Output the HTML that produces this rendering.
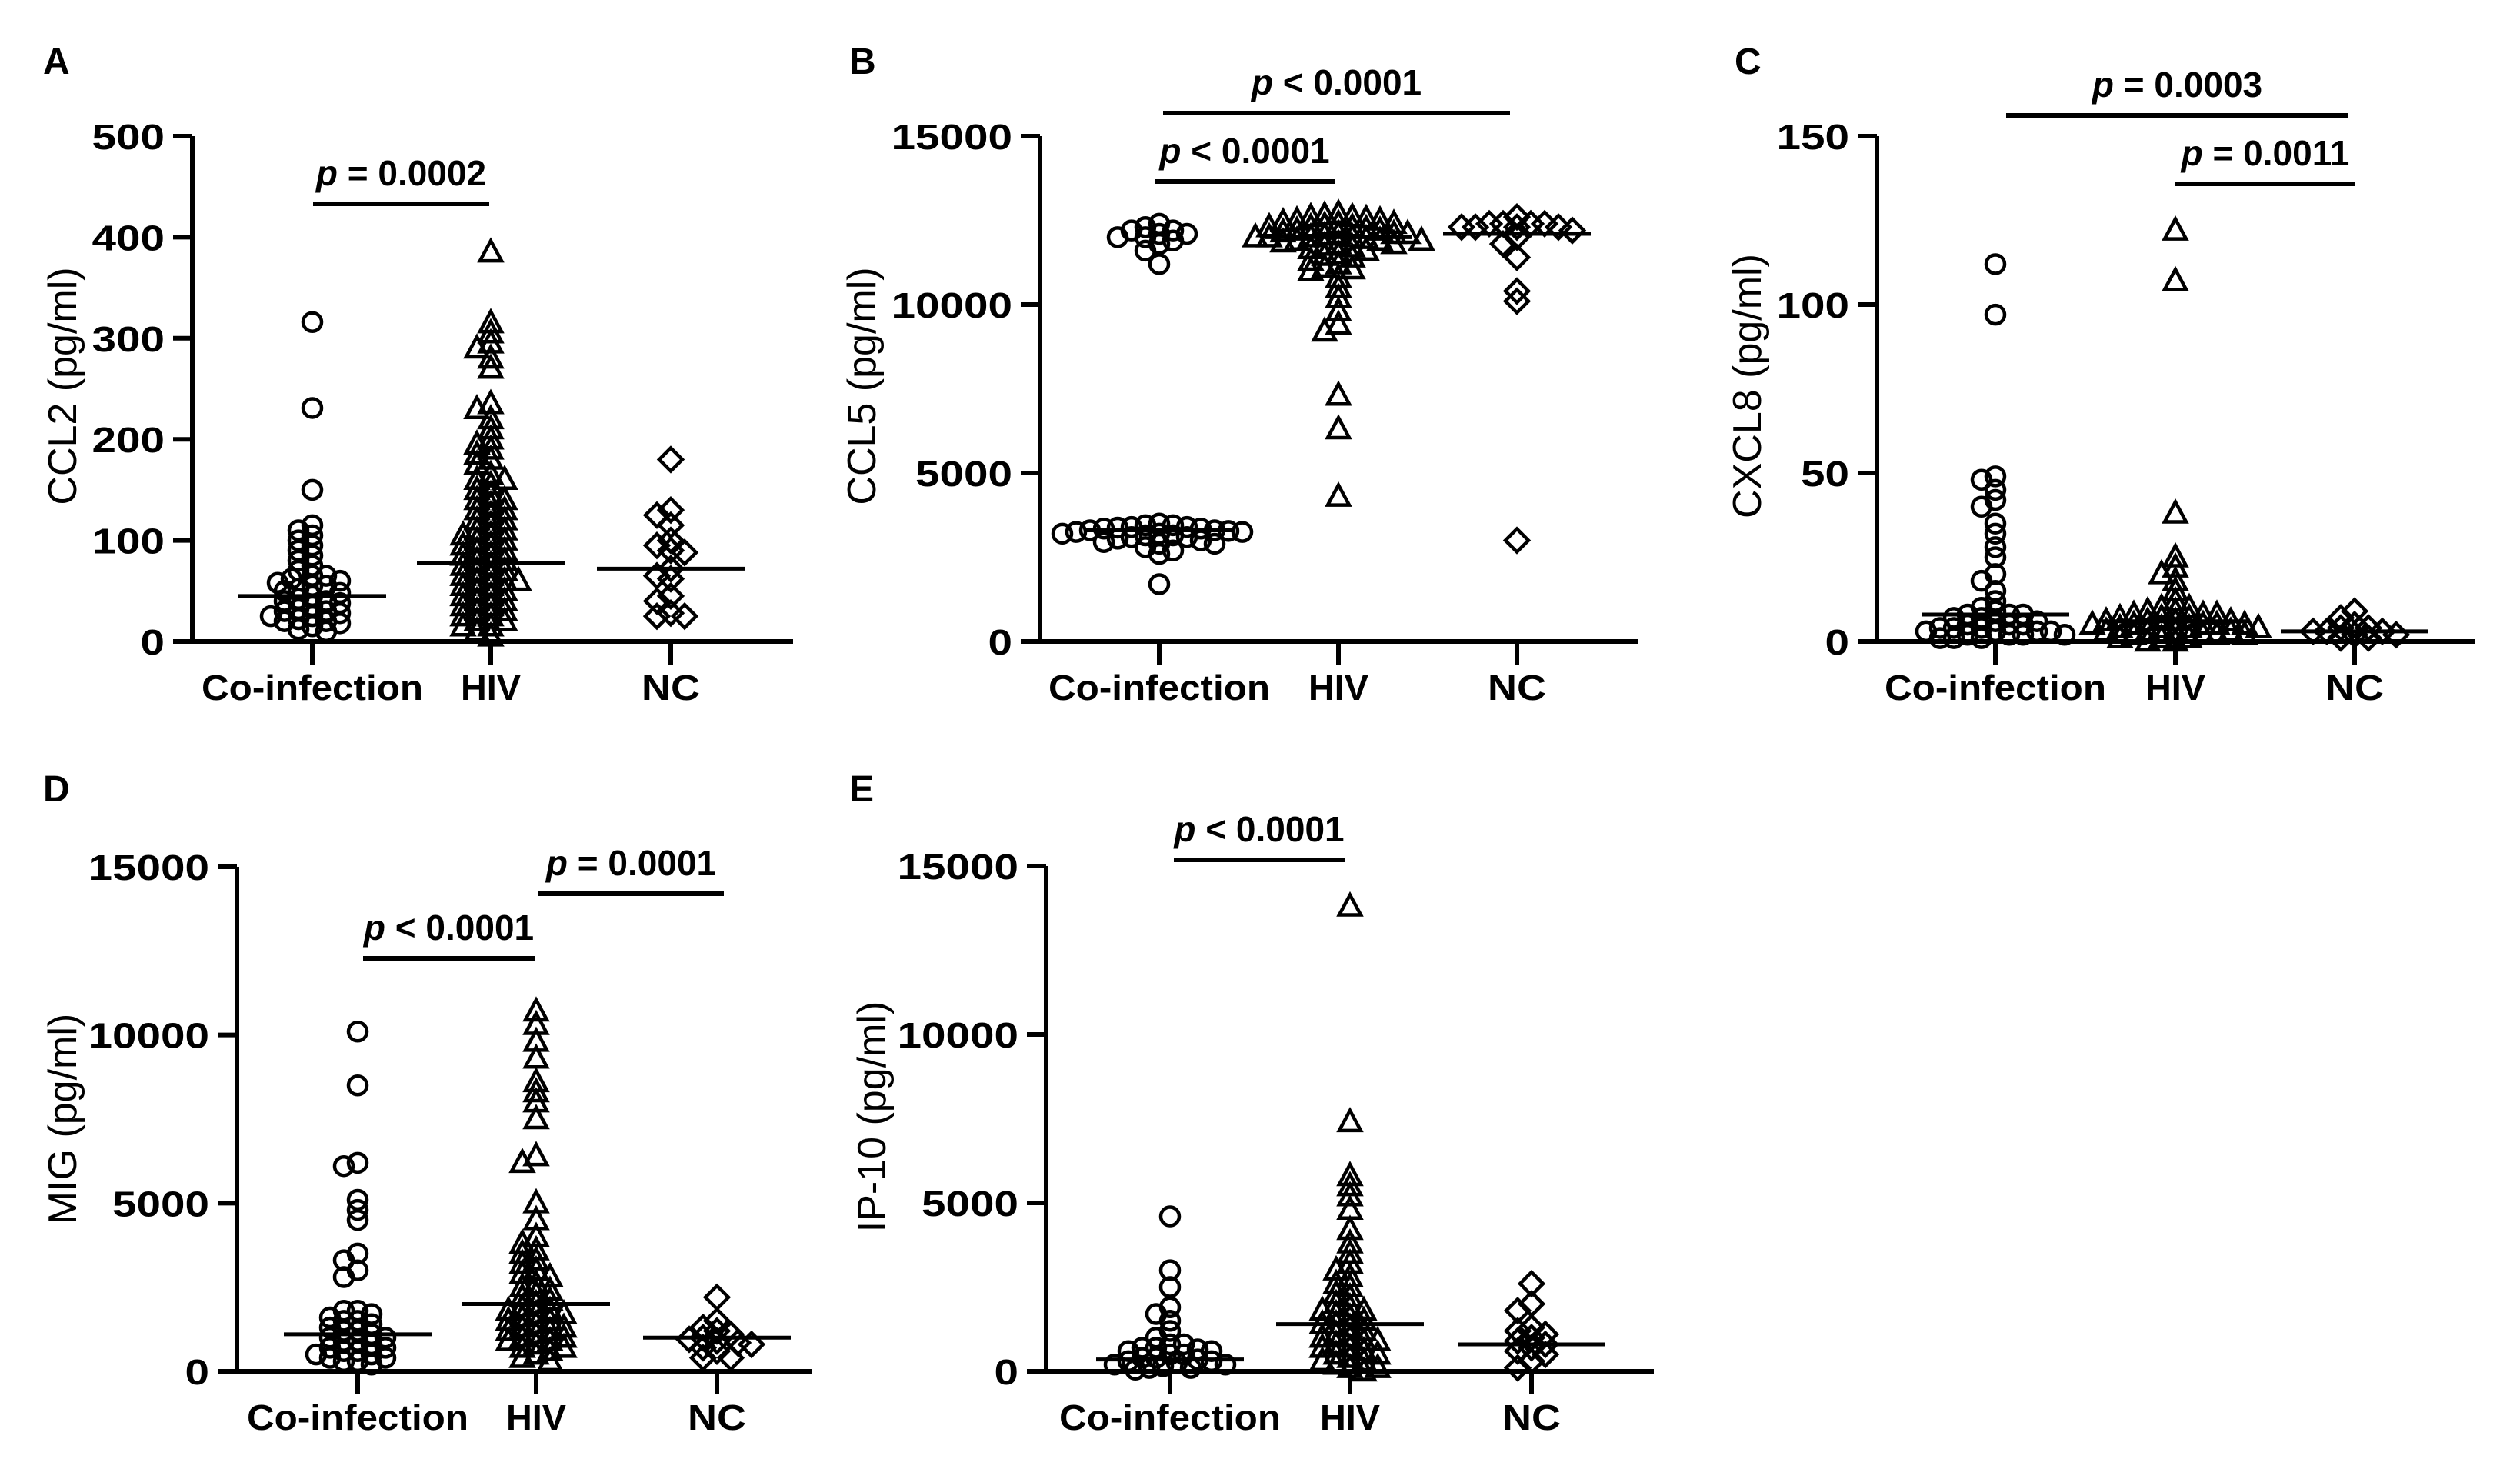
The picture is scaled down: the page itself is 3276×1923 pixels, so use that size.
<!DOCTYPE html>
<html><head><meta charset="utf-8"><style>
html,body{margin:0;padding:0;background:#fff;}
svg{display:block;font-family:"Liberation Sans",Arial,sans-serif;}
</style></head><body>
<svg id="fig" width="3276" height="1923" viewBox="0 0 3276 1923" xmlns="http://www.w3.org/2000/svg"></svg>
<script>
const categories = ["Co-infection","HIV","NC"];
// Panel A CCL2
const ccl2Coinf = [316,231,150,115,110,105,100,95,90,85,80,75,70,65,62,60,58,55,52,50,48,45,42,40,38,35,32,30,28,25,22,20,18,15,12,10,30,40,55,65,20,25];
const ccl2Hiv = [385,315,305,295,290,280,270,235,230,220,210,200,195,190,185,180,175,165,160,155,150,145,140,135,130,125,120,115,110,105,100,95,90,85,80,75,70,65,60,55,50,45,40,35,30,25,20,15,10,5,60,70,80,90,100,110,50,40,30,20,60,75,85,95,120,140,45,55,65,35,25,15,160,130,105];
const ccl2Nc = [180,130,125,115,100,95,90,88,72,65,62,45,40,28,25,25];
const ccl2Medians = [45,78,72];
// Panel B CCL5
const ccl5Coinf = [12400,12300,12200,12100,12000,12000,11900,11800,12200,12100,11600,11200,3500,3450,3400,3400,3350,3300,3300,3250,3200,3200,3150,3100,3100,3000,2950,2900,2900,2800,2700,2600,3350,3450,3250,3150,1700,3380,3280,3050];
const ccl5Hiv = [12700,12600,12600,12500,12500,12400,12400,12300,12300,12200,12200,12100,12100,12000,12000,12000,11900,11900,11800,11800,11700,11600,11500,11400,11300,11200,11100,11000,10800,10500,10200,9800,9400,9200,7300,6300,4300,12450,12350,12250,12150,12050,11950,11850,11750,11650,12550,12650,11450,11050,12000,12100,11900,12300];
const ccl5Nc = [12600,12400,12400,12400,12400,12300,12300,12300,12300,12200,12000,11800,11400,10400,10100,3000];
const ccl5Medians = [3300,12000,12100];
// Panel C CXCL8
const cxcl8Coinf = [112,97,49,48,45,42,40,35,32,28,25,20,18,15,12,10,8,8,7,6,5,5,4,4,3,3,2,2,1,1,2,3,4,5,6,7,8,9,1,2,3];
const cxcl8Hiv = [122,107,38,25,22,20,18,15,12,10,9,8,8,7,7,6,6,5,5,5,4,4,4,3,3,3,2,2,2,1,1,1,0,0,6,7,8,9,10,4,5,3,2,6,5];
const cxcl8Nc = [9,7,5,4,3,3,2,2,1,1,3,4];
const cxcl8Medians = [8,6,3];
// Panel D MIG
const migCoinf = [10100,8500,6200,6100,5100,4800,4500,3500,3300,3000,2800,1800,1700,1600,1500,1400,1300,1200,1100,1000,900,800,700,600,500,400,300,200,1500,1200,900,700,500,300,1800,1000,600,400];
const migHiv = [10700,10300,9800,9300,8600,8300,8000,7500,6400,6200,5000,4500,4000,3800,3500,3200,3000,2800,2600,2400,2200,2000,1900,1800,1700,1600,1500,1400,1300,1200,1100,1000,900,800,700,600,500,400,300,2500,2100,1800,1500,1200,900,3600,3300,2900,2300,1700,1300,1000,700];
const migNc = [2200,1500,1300,1200,1100,1000,950,900,850,800,700,600,400,400];
const migMedians = [1100,2000,1000];
// Panel E IP-10
const ip10Coinf = [4600,3000,2500,1900,1700,1500,1200,1000,800,700,600,500,400,300,200,100,50,700,600,500,400,300,200,100,800,650,350,250,150];
const ip10Hiv = [13800,7400,5800,5500,5200,4800,4200,3800,3500,3200,3000,2800,2500,2200,2000,1800,1600,1400,1200,1000,900,800,700,600,500,400,300,200,100,0,2600,2300,1900,1700,1500,1300,1100,900,700,500,300,100,1800,1400,1000];
const ip10Nc = [2600,2000,1800,1300,1200,1100,1000,900,800,700,600,500,300,100];
const ip10Medians = [350,1400,800];

const NS="http://www.w3.org/2000/svg";
const svg=document.getElementById('fig');
function el(tag,attrs,parent){const e=document.createElementNS(NS,tag);for(const k in attrs)e.setAttribute(k,attrs[k]);(parent||svg).appendChild(e);return e;}

const panels=[
 {id:'a',letter:'A',lx:56,ly:96,ax:250,yTop:177,yBot:834,xEnd:1031,cx:[406,638,872],max:500,ticks:[0,100,200,300,400,500],title:'CCL2 (pg/ml)',tx:81,ty:502,data:[ccl2Coinf,ccl2Hiv,ccl2Nc],med:ccl2Medians,
  sig:[{x1:407,x2:636,y:265,t:'= 0.0002'}]},
 {id:'b',letter:'B',lx:1104,ly:96,ax:1352,yTop:177,yBot:834,xEnd:2129,cx:[1507,1740,1972],max:15000,ticks:[0,5000,10000,15000],title:'CCL5 (pg/ml)',tx:1120,ty:502,data:[ccl5Coinf,ccl5Hiv,ccl5Nc],med:ccl5Medians,
  sig:[{x1:1512,x2:1963,y:147,t:'< 0.0001'},{x1:1501,x2:1735,y:236,t:'< 0.0001'}]},
 {id:'c',letter:'C',lx:2255,ly:96,ax:2440,yTop:177,yBot:834,xEnd:3218,cx:[2594,2828,3061],max:150,ticks:[0,50,100,150],title:'CXCL8 (pg/ml)',tx:2271,ty:502,data:[cxcl8Coinf,cxcl8Hiv,cxcl8Nc],med:cxcl8Medians,
  sig:[{x1:2608,x2:3053,y:150,t:'= 0.0003'},{x1:2828,x2:3062,y:239,t:'= 0.0011'}]},
 {id:'d',letter:'D',lx:56,ly:1042,ax:308,yTop:1127,yBot:1783,xEnd:1056,cx:[465,697,932],max:15000,ticks:[0,5000,10000,15000],title:'MIG (pg/ml)',tx:81,ty:1455,data:[migCoinf,migHiv,migNc],med:migMedians,
  sig:[{x1:472,x2:695,y:1246,t:'< 0.0001'},{x1:700,x2:941,y:1162,t:'= 0.0001'}]},
 {id:'e',letter:'E',lx:1104,ly:1042,ax:1360,yTop:1126,yBot:1783,xEnd:2150,cx:[1521,1755,1991],max:15000,ticks:[0,5000,10000,15000],title:'IP-10 (pg/ml)',tx:1133,ty:1452,data:[ip10Coinf,ip10Hiv,ip10Nc],med:ip10Medians,
  sig:[{x1:1526,x2:1748,y:1118,t:'< 0.0001'}]}
];

function marker(g,shape,x,y){
  let m;
  if(shape===0){m=el('circle',{cx:x,cy:y,r:12,fill:'none',stroke:'#000','stroke-width':4.5},g);}
  else if(shape===1){m=el('polygon',{points:`${x},${y-15} ${x+14},${y+11} ${x-14},${y+11}`,fill:'none',stroke:'#000','stroke-width':4.5},g);}
  else {m=el('polygon',{points:`${x},${y-15} ${x+15},${y} ${x},${y+15} ${x-15},${y}`,fill:'none',stroke:'#000','stroke-width':4.5},g);}
  return m;
}
const catWidths=[288,78,76];

panels.forEach(p=>{
  const g=el('g',{});
  
  
  const ys=v=>p.yBot-(v/p.max)*(p.yBot-p.yTop);
  const lt=el('text',{x:p.lx,y:p.ly,'font-size':48,'font-weight':'bold'},g);lt.textContent=p.letter;
  
  
  const ya=el('line',{x1:p.ax,y1:p.yTop,x2:p.ax,y2:p.yBot+2.5,stroke:'#000','stroke-width':6},g);
  
  
  const xa=el('line',{x1:p.ax-3,y1:p.yBot,x2:p.xEnd,y2:p.yBot,stroke:'#000','stroke-width':6},g);
  
  
  p.ticks.forEach(t=>{
    const y=ys(t);
    el('line',{x1:p.ax-25,y1:y,x2:p.ax,y2:y,stroke:'#000','stroke-width':6},g);
    const s=String(t);
    const tl=el('text',{x:p.ax-36,y:y+17,'font-size':46,'font-weight':'bold','text-anchor':'end',textLength:s.length*31.5,lengthAdjust:'spacingAndGlyphs'},g);
    tl.textContent=s;
    
    
  });
  const tt=el('text',{x:0,y:0,'font-size':52,'text-anchor':'middle',transform:`translate(${p.tx+18},${p.ty}) rotate(-90)`},g);
  tt.textContent=p.title;
  
  
  categories.forEach((c,i)=>{
    el('line',{x1:p.cx[i],y1:p.yBot,x2:p.cx[i],y2:p.yBot+30,stroke:'#000','stroke-width':6},g);
    const cl=el('text',{x:p.cx[i],y:p.yBot+76,'font-size':46,'font-weight':'bold','text-anchor':'middle',textLength:catWidths[i],lengthAdjust:'spacingAndGlyphs'},g);
    cl.textContent=c;
    
    
  });
  p.data.forEach((arr,i)=>{
    const placed=[];
    const sorted=arr.slice().sort((a,b)=>b-a);
    const d=13;
    sorted.forEach(v=>{
      const y=ys(v);
      let x=p.cx[i];
      for(let k=0;k<30;k++){
        const off=(k%2===0?1:-1)*Math.ceil(k/2)*9;
        const cx=p.cx[i]+off;
        if(!placed.some(q=>Math.hypot(q[0]-cx,q[1]-y)<d)){x=cx;break;}
        x=p.cx[i]+Math.max(-105,Math.min(105,off));
      }
      placed.push([x,y]);
      const m=marker(g,i,x,y);
      
      
    });
    const my=ys(p.med[i]);
    const ml=el('line',{x1:p.cx[i]-96,y1:my,x2:p.cx[i]+96,y2:my,stroke:'#000','stroke-width':5},g);
    
    
  });
  p.sig.forEach(s=>{
    const sl=el('line',{x1:s.x1,y1:s.y,x2:s.x2,y2:s.y,stroke:'#000','stroke-width':6},g);
    
    
    const st=el('text',{x:(s.x1+s.x2)/2,y:s.y-24,'font-size':46,'font-weight':'bold','text-anchor':'middle'},g);
    const ts=el('tspan',{'font-style':'italic'},st);ts.textContent='p';
    const ts2=el('tspan',{},st);ts2.textContent=' '+s.t;
    
    
  });
});
</script>
</body></html>
